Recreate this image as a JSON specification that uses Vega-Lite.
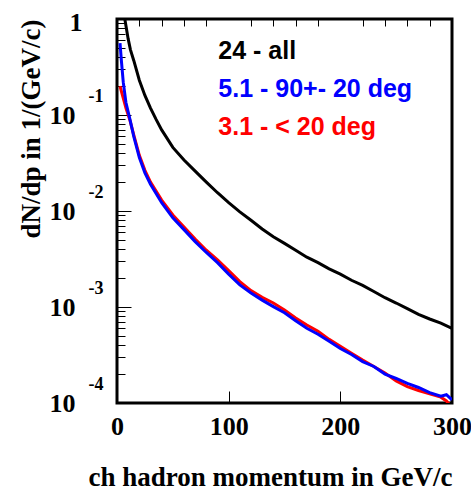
{
  "$schema": "https://vega.github.io/schema/vega-lite/v6.json",
  "width": 335,
  "height": 384,
  "autosize": "none",
  "padding": {"left": 117, "top": 19, "right": 19, "bottom": 89},
  "background": "white",
  "config": {
    "view": {"stroke": "black", "strokeWidth": 3},
    "axis": {"grid": false, "domain": false, "tickColor": "black", "tickWidth": 1, "labelFont": "Liberation Serif", "labelFontWeight": "bold", "labelColor": "black", "titleFont": "Liberation Serif", "titleFontWeight": "bold", "titleColor": "black"}
  },
  "title": {"text": "gamma momentum in GeV/c", "font": "Liberation Serif", "fontSize": 27, "fontWeight": "bold", "color": "#333", "anchor": "middle", "baseline": "alphabetic", "offset": 15},
  "datasets": {
    "curves": [
      {"s": "all", "x": 7, "y": 1.0}, {"s": "all", "x": 10, "y": 0.62}, {"s": "all", "x": 12, "y": 0.48}, {"s": "all", "x": 15, "y": 0.37}, {"s": "all", "x": 20, "y": 0.23}, {"s": "all", "x": 25, "y": 0.16}, {"s": "all", "x": 30, "y": 0.118}, {"s": "all", "x": 35, "y": 0.09}, {"s": "all", "x": 40, "y": 0.07}, {"s": "all", "x": 50, "y": 0.046}, {"s": "all", "x": 60, "y": 0.034}, {"s": "all", "x": 70, "y": 0.026}, {"s": "all", "x": 80, "y": 0.02}, {"s": "all", "x": 90, "y": 0.0155}, {"s": "all", "x": 100, "y": 0.0122}, {"s": "all", "x": 110, "y": 0.0098}, {"s": "all", "x": 120, "y": 0.008}, {"s": "all", "x": 130, "y": 0.0065}, {"s": "all", "x": 140, "y": 0.0054}, {"s": "all", "x": 150, "y": 0.0046}, {"s": "all", "x": 160, "y": 0.0039}, {"s": "all", "x": 170, "y": 0.0033}, {"s": "all", "x": 180, "y": 0.0029}, {"s": "all", "x": 190, "y": 0.0025}, {"s": "all", "x": 200, "y": 0.0022}, {"s": "all", "x": 210, "y": 0.0019}, {"s": "all", "x": 220, "y": 0.00168}, {"s": "all", "x": 230, "y": 0.00145}, {"s": "all", "x": 240, "y": 0.00125}, {"s": "all", "x": 250, "y": 0.0011}, {"s": "all", "x": 260, "y": 0.00096}, {"s": "all", "x": 270, "y": 0.00084}, {"s": "all", "x": 280, "y": 0.00075}, {"s": "all", "x": 290, "y": 0.00068}, {"s": "all", "x": 300, "y": 0.0006},
      {"s": "red", "x": 2.7, "y": 0.2}, {"s": "red", "x": 4, "y": 0.175}, {"s": "red", "x": 5.6, "y": 0.15}, {"s": "red", "x": 8, "y": 0.118}, {"s": "red", "x": 11.6, "y": 0.088}, {"s": "red", "x": 15, "y": 0.062}, {"s": "red", "x": 20, "y": 0.038}, {"s": "red", "x": 25, "y": 0.0265}, {"s": "red", "x": 30, "y": 0.02}, {"s": "red", "x": 40, "y": 0.013}, {"s": "red", "x": 50, "y": 0.0091}, {"s": "red", "x": 60, "y": 0.0068}, {"s": "red", "x": 70, "y": 0.0051}, {"s": "red", "x": 80, "y": 0.0039}, {"s": "red", "x": 90, "y": 0.0031}, {"s": "red", "x": 100, "y": 0.0024}, {"s": "red", "x": 110, "y": 0.00184}, {"s": "red", "x": 120, "y": 0.00148}, {"s": "red", "x": 130, "y": 0.00126}, {"s": "red", "x": 140, "y": 0.0011}, {"s": "red", "x": 150, "y": 0.00093}, {"s": "red", "x": 160, "y": 0.00077}, {"s": "red", "x": 170, "y": 0.00065}, {"s": "red", "x": 180, "y": 0.00056}, {"s": "red", "x": 190, "y": 0.00046}, {"s": "red", "x": 200, "y": 0.00039}, {"s": "red", "x": 210, "y": 0.00033}, {"s": "red", "x": 220, "y": 0.00028}, {"s": "red", "x": 230, "y": 0.00024}, {"s": "red", "x": 240, "y": 0.000205}, {"s": "red", "x": 250, "y": 0.00017}, {"s": "red", "x": 260, "y": 0.000148}, {"s": "red", "x": 270, "y": 0.000135}, {"s": "red", "x": 280, "y": 0.000125}, {"s": "red", "x": 290, "y": 0.000115}, {"s": "red", "x": 295, "y": 0.000105}, {"s": "red", "x": 300, "y": 0.00009},
      {"s": "blue", "x": 2.7, "y": 0.56}, {"s": "blue", "x": 4, "y": 0.36}, {"s": "blue", "x": 5.6, "y": 0.22}, {"s": "blue", "x": 8, "y": 0.135}, {"s": "blue", "x": 11.6, "y": 0.09}, {"s": "blue", "x": 15, "y": 0.06}, {"s": "blue", "x": 20, "y": 0.036}, {"s": "blue", "x": 25, "y": 0.025}, {"s": "blue", "x": 30, "y": 0.019}, {"s": "blue", "x": 40, "y": 0.0122}, {"s": "blue", "x": 50, "y": 0.0085}, {"s": "blue", "x": 60, "y": 0.0064}, {"s": "blue", "x": 70, "y": 0.0048}, {"s": "blue", "x": 80, "y": 0.0037}, {"s": "blue", "x": 90, "y": 0.0029}, {"s": "blue", "x": 100, "y": 0.0022}, {"s": "blue", "x": 110, "y": 0.0017}, {"s": "blue", "x": 120, "y": 0.0014}, {"s": "blue", "x": 130, "y": 0.00118}, {"s": "blue", "x": 140, "y": 0.00101}, {"s": "blue", "x": 150, "y": 0.00087}, {"s": "blue", "x": 160, "y": 0.00072}, {"s": "blue", "x": 170, "y": 0.0006}, {"s": "blue", "x": 180, "y": 0.00052}, {"s": "blue", "x": 190, "y": 0.00044}, {"s": "blue", "x": 200, "y": 0.00037}, {"s": "blue", "x": 210, "y": 0.00032}, {"s": "blue", "x": 220, "y": 0.00027}, {"s": "blue", "x": 230, "y": 0.00024}, {"s": "blue", "x": 240, "y": 0.0002}, {"s": "blue", "x": 250, "y": 0.00018}, {"s": "blue", "x": 260, "y": 0.00016}, {"s": "blue", "x": 270, "y": 0.000145}, {"s": "blue", "x": 280, "y": 0.000128}, {"s": "blue", "x": 290, "y": 0.000118}, {"s": "blue", "x": 295, "y": 0.000122}, {"s": "blue", "x": 300, "y": 0.000108}
    ],
    "labels": [
      {"s": "all", "label": "24 - all", "x": 90.7, "y": 0.383},
      {"s": "blue", "label": "5.1 - 90+- 20 deg", "x": 90.7, "y": 0.153},
      {"s": "red", "label": "3.1 - < 20 deg", "x": 90.7, "y": 0.0619}
    ]
  },
  "resolve": {"axis": {"x": "independent", "y": "independent"}},
  "layer": [
    {
      "data": {"name": "curves"},
      "transform": [{"filter": "datum.s == 'all'"}],
      "mark": {"type": "line", "strokeWidth": 3, "clip": true},
      "encoding": {
        "x": {"field": "x", "type": "quantitative", "scale": {"domain": [0, 300], "nice": false},
          "axis": {"values": [0, 100, 200, 300], "tickSize": -12, "labelPadding": 22, "labelFontSize": 26, "labelFlush": false, "labelOverlap": false,
            "title": "ch hadron momentum in GeV/c", "titleFontSize": 27, "titleAnchor": "end", "titlePadding": 25}},
        "y": {"field": "y", "type": "quantitative", "scale": {"type": "log", "domain": [0.0001, 1], "nice": false},
          "axis": {"values": [0.0001, 0.001, 0.01, 0.1], "tickSize": -14, "labelPadding": 56, "labelFontSize": 26, "labelExpr": "'10'", "labelOverlap": false,
            "title": "dN/dp in 1/(GeV/c)", "titleFontSize": 27, "titleAnchor": "end", "titlePadding": 4}},
        "color": {"field": "s", "type": "nominal", "scale": {"domain": ["all", "blue", "red"], "range": ["black", "#0000ff", "#ff0000"]}, "legend": null}
      }
    },
    {
      "data": {"name": "curves"},
      "transform": [{"filter": "datum.s == 'red'"}],
      "mark": {"type": "line", "strokeWidth": 3, "clip": true},
      "encoding": {
        "x": {"field": "x", "type": "quantitative",
          "axis": {"values": [20, 40, 60, 80, 120, 140, 160, 180, 220, 240, 260, 280], "tickSize": -7, "labels": false, "title": null}},
        "y": {"field": "y", "type": "quantitative",
          "axis": {"orient": "left", "values": [0.0001, 0.001, 0.01, 0.1], "ticks": false, "labelPadding": 14, "labelOffset": -19, "labelFontSize": 18, "labelExpr": "'-' + format(-log(datum.value)/LN10, 'd')", "labelOverlap": false, "title": null}},
        "color": {"field": "s", "type": "nominal"}
      }
    },
    {
      "data": {"name": "curves"},
      "transform": [{"filter": "datum.s == 'blue'"}],
      "mark": {"type": "line", "strokeWidth": 3, "clip": true},
      "encoding": {
        "x": {"field": "x", "type": "quantitative", "axis": null},
        "y": {"field": "y", "type": "quantitative",
          "axis": {"orient": "left", "values": [0.0002, 0.0003, 0.0004, 0.0005, 0.0006, 0.0007, 0.0008, 0.0009, 0.002, 0.003, 0.004, 0.005, 0.006, 0.007, 0.008, 0.009, 0.02, 0.03, 0.04, 0.05, 0.06, 0.07, 0.08, 0.09, 0.2, 0.3, 0.4, 0.5, 0.6, 0.7, 0.8, 0.9, 1],
            "tickSize": -8, "labelPadding": 43, "labelOffset": 3, "labelFontSize": 26, "labelExpr": "datum.value == 1 ? '1' : ''", "labelOverlap": false, "title": null}},
        "color": {"field": "s", "type": "nominal"}
      }
    },
    {
      "data": {"name": "labels"},
      "mark": {"type": "text", "font": "Liberation Sans", "fontWeight": "bold", "fontSize": 25, "align": "left", "baseline": "alphabetic"},
      "encoding": {
        "x": {"field": "x", "type": "quantitative", "axis": null},
        "y": {"field": "y", "type": "quantitative", "axis": null},
        "text": {"field": "label"},
        "color": {"field": "s", "type": "nominal"}
      }
    }
  ]
}
